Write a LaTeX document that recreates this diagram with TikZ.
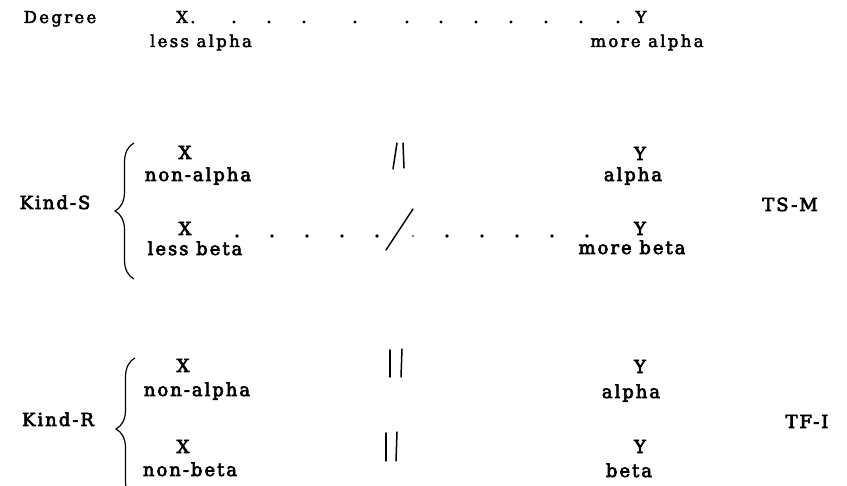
\documentclass[tikz,border=0pt]{standalone}
\usepackage{fontspec}
\usetikzlibrary{decorations.pathreplacing}
\newfontfamily\topf[LetterSpace=14,FakeBold=2.5]{DejaVu Serif}
\newfontfamily\lowf[LetterSpace=11,FakeBold=3.5]{DejaVu Serif}
\begin{document}
\begin{tikzpicture}[x=1pt,y=-1pt,
  toptxt/.style={font=\topf\fontsize{16.5}{19}\selectfont, inner sep=0pt, anchor=base},
  lowtxt/.style={font=\lowf\fontsize{18}{21}\selectfont, inner sep=0pt, anchor=base},
  bar/.style={line width=1.5pt, line cap=round},
  bracemark/.style={decorate, decoration={brace, amplitude=19pt}, line width=1.2pt}]
\useasboundingbox (0,0) rectangle (847,486);

% ---- Degree ----
\node[toptxt] (deg) at (60,23) {Degree};
\node[toptxt, anchor=base west] (dx) at (176,23) {X.};
\node[toptxt] (dy) at (641,23) {Y};
\node[toptxt] (dla) at (201,47) {less alpha};
\node[toptxt] (dma) at (647,47) {more alpha};
\foreach \x in {234,269,304,355,407,441,476,511,546,581,618}
  \fill (\x,22) circle[radius=1.7pt];

% ---- Kind-S ----
\node[lowtxt] (ks) at (55,209) {Kind-S};
\node[lowtxt] (tsm) at (790,211) {TS-M};
\node[lowtxt] (sx1) at (185,159) {X};
\node[lowtxt] (sna) at (198,181) {non-alpha};
\node[lowtxt] (sy1) at (640,160) {Y};
\node[lowtxt] (sa) at (633,181) {alpha};
\node[lowtxt] (sx2) at (185,235) {X};
\node[lowtxt] (slb) at (195,255) {less beta};
\node[lowtxt] (sy2) at (640,235) {Y};
\node[lowtxt] (smb) at (632,254) {more beta};
\foreach \x in {237,272,307,342,377,447,482,517,552,587}
  \fill (\x,236) circle[radius=1.8pt];
\fill (413,236) circle[radius=0.9pt];
\draw[line width=1.4pt, line cap=round] (386,250) -- (413,209);
\draw[bar] (397,143) -- (393,169);
\draw[bar] (403,143) -- (404,168);
\draw[bracemark] (134,279) -- (134,143);

% ---- Kind-R ----
\node[lowtxt] (kr) at (58,426) {Kind-R};
\node[lowtxt] (tfi) at (807,428) {TF-I};
\node[lowtxt] (rx1) at (183,372) {X};
\node[lowtxt] (rna) at (197,396) {non-alpha};
\node[lowtxt] (ry1) at (640,373) {Y};
\node[lowtxt] (ra) at (631,398) {alpha};
\node[lowtxt] (rx2) at (183,453) {X};
\node[lowtxt] (rnb) at (190,476) {non-beta};
\node[lowtxt] (ry2) at (640,453) {Y};
\node[lowtxt] (rb) at (629,477) {beta};
\draw[bar] (390,350) -- (390,377);
\draw[bar] (402,349) -- (401,377);
\draw[bar] (386,433) -- (386,461);
\draw[bar] (397,432) -- (396,461);
\draw[bracemark] (135,500) -- (135,358);
\end{tikzpicture}
\end{document}
